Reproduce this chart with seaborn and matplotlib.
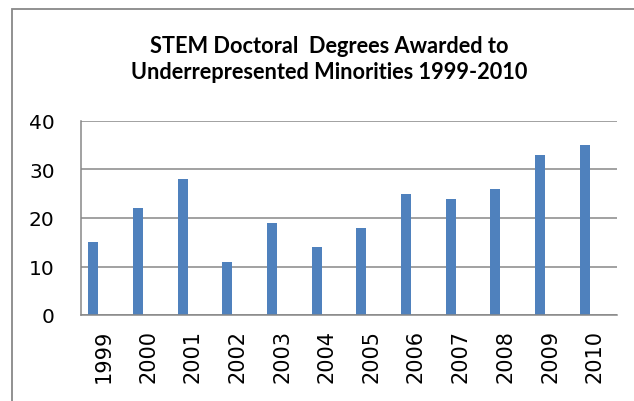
import matplotlib
matplotlib.use("Agg")
import matplotlib.pyplot as plt
import seaborn as sns
import pandas as pd
from matplotlib.patches import Rectangle

years = ["1999", "2000", "2001", "2002", "2003", "2004", "2005", "2006", "2007", "2008", "2009", "2010"]
degrees = [15, 22, 28, 11, 19, 14, 18, 25, 24, 26, 33, 35]
y_ticks = [0, 10, 20, 30, 40]
title = "STEM Doctoral  Degrees Awarded to\nUnderrepresented Minorities 1999-2010"

sns.set_theme(style="white")
plt.rcParams["font.family"] = ["DejaVu Sans"]

df = pd.DataFrame({"year": years, "value": degrees, "series": "A"})

W, H = 634, 402
fig = plt.figure(figsize=(W / 100, H / 100), dpi=100)
ax = fig.add_axes([81 / W, (H - 316) / H, (617 - 81) / W, (316 - 122) / H])

blue = "#4F81BD"
sns.barplot(data=df, x="year", y="value", hue="series", hue_order=["A", "B", "C"],
            palette=[blue, blue, blue], width=0.67, dodge=True, legend=False,
            errorbar=None, saturation=1, linewidth=0, ax=ax)

ax.set_ylim(0, 40)
ax.set_xlim(-0.5, len(years) - 0.5)
ax.set_yticks(y_ticks)
ax.set_yticklabels([str(t) for t in y_ticks])
ax.set_xlabel("")
ax.set_ylabel("")
grid_c = "#878787"
ax.yaxis.grid(True, color=grid_c, linewidth=1.1)
ax.set_axisbelow(True)
for s in ["top", "right"]:
    ax.spines[s].set_visible(False)
for s in ["left", "bottom"]:
    ax.spines[s].set_color(grid_c)
    ax.spines[s].set_linewidth(1.1)
ax.tick_params(axis="y", length=0, pad=19, labelsize=14.5, labelcolor="black")
ax.tick_params(axis="x", length=0, pad=10, labelsize=15, labelcolor="black", labelrotation=90)

fig.text(329 / W, 1 - 59.5 / H, title, ha="center", va="center", fontsize=15.7,
         fontweight="bold", family=["Lato", "DejaVu Sans"], linespacing=1.3, color="black")

border = Rectangle((11.5 / W, 0 - 0.05), 1.2, 1 - 9.5 / H + 0.05, transform=fig.transFigure,
                   fill=False, edgecolor="#888888", linewidth=1.3, clip_on=False)
fig.patches.append(border)

fig.savefig("out.png", dpi=100)
